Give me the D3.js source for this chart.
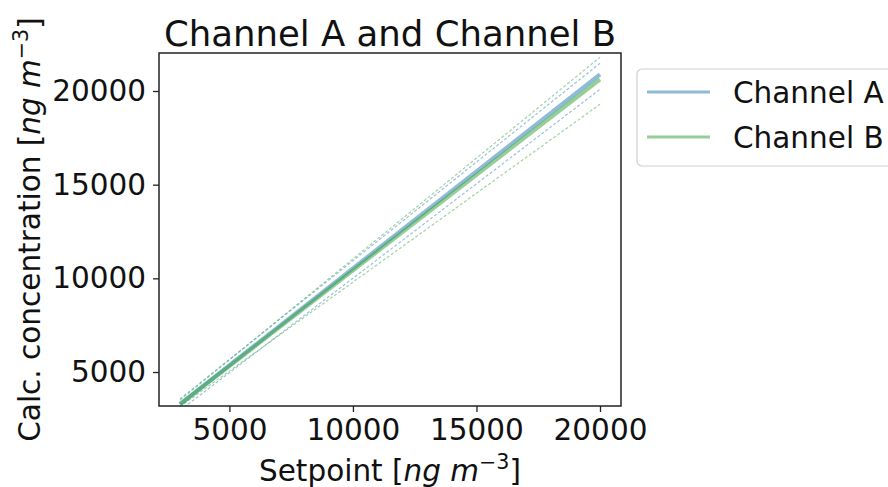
<!DOCTYPE html>
<html>
<head>
<meta charset="utf-8">
<script src="https://cdn.jsdelivr.net/npm/d3@7"></script>
<style>
  html, body { margin: 0; padding: 0; background: #fff; }
  svg { display: block; font-family: "DejaVu Sans", sans-serif; }
</style>
</head>
<body>
<svg id="chart" width="888" height="487"></svg>
<script>
// Setpoints spanned by the calibration fits
const setpoints = [3000, 20000];

// Channel A: fitted line and its upper / lower bounds
const channelAFit = [3290, 20890];
const channelAUpper = [3560, 21480];
const channelALower = [2950, 20090];

// Channel B: fitted line and its upper / lower bounds
const channelBFit = [3276, 20624];
const channelBUpper = [3500, 21800];
const channelBLower = [3150, 19290];

const xTicks = [5000, 10000, 15000, 20000];
const yTicks = [5000, 10000, 15000, 20000];

const seriesNames = ["Channel A", "Channel B"];
const seriesColors = ["#1f77b4", "#2ca02c"];

const svg = d3.select("#chart");
const plot = { left: 159, right: 621, top: 53, bottom: 406 };

const x = d3.scaleLinear().domain([2150, 20850]).range([plot.left, plot.right]);
const y = d3.scaleLinear().domain([3186, 22028]).range([plot.bottom, plot.top]);

svg.append("defs").append("clipPath").attr("id", "plot-clip")
  .append("rect")
  .attr("x", plot.left).attr("y", plot.top)
  .attr("width", plot.right - plot.left).attr("height", plot.bottom - plot.top);

const lineGen = d3.line().x(d => x(d[0])).y(d => y(d[1]));
const pts = vals => setpoints.map((s, i) => [s, vals[i]]);

const g = svg.append("g").attr("clip-path", "url(#plot-clip)");

const groups = [
  { fit: channelAFit, up: channelAUpper, lo: channelALower, color: seriesColors[0] },
  { fit: channelBFit, up: channelBUpper, lo: channelBLower, color: seriesColors[1] }
];

groups.forEach(s => {
  g.append("path").attr("d", lineGen(pts(s.fit)))
    .attr("fill", "none").attr("stroke", s.color)
    .attr("stroke-opacity", 0.5).attr("stroke-width", 4);
  [s.up, s.lo].forEach(b => {
    g.append("path").attr("d", lineGen(pts(b)))
      .attr("fill", "none").attr("stroke", s.color)
      .attr("stroke-opacity", 0.45).attr("stroke-width", 1.2)
      .attr("stroke-dasharray", "3,2");
  });
});

// Axes
const fontSize = 29.5;
const xAxis = svg.append("g")
  .attr("transform", `translate(0,${plot.bottom})`)
  .call(d3.axisBottom(x).tickValues(xTicks).tickSize(6).tickPadding(7).tickFormat(d3.format("d")));
const yAxis = svg.append("g")
  .attr("transform", `translate(${plot.left},0)`)
  .call(d3.axisLeft(y).tickValues(yTicks).tickSize(6).tickPadding(7).tickFormat(d3.format("d")));

[xAxis, yAxis].forEach(a => {
  a.select(".domain").remove();
  a.selectAll(".tick line").attr("stroke", "#222").attr("stroke-width", 1.3);
  a.selectAll(".tick text").attr("fill", "#111")
    .style("font-family", "DejaVu Sans").style("font-size", fontSize + "px");
});

// Frame
svg.append("rect")
  .attr("x", plot.left).attr("y", plot.top)
  .attr("width", plot.right - plot.left).attr("height", plot.bottom - plot.top)
  .attr("fill", "none").attr("stroke", "#222").attr("stroke-width", 1.5);

// Title
svg.append("text")
  .attr("x", (plot.left + plot.right) / 2).attr("y", 46)
  .attr("text-anchor", "middle")
  .style("font-size", "35.5px").attr("fill", "#111")
  .text("Channel A and Channel B");

// X label
const xl = svg.append("text")
  .attr("x", (plot.left + plot.right) / 2).attr("y", 481)
  .attr("text-anchor", "middle")
  .style("font-size", fontSize + "px").attr("fill", "#111");
xl.append("tspan").text("Setpoint [");
xl.append("tspan").style("font-style", "italic").text("ng m");
xl.append("tspan").attr("dy", -12).style("font-size", (fontSize * 0.7) + "px").text("−3");
xl.append("tspan").attr("dy", 12).text("]");

// Y label
const yl = svg.append("text")
  .attr("transform", `translate(40,${(plot.top + plot.bottom) / 2}) rotate(-90)`)
  .attr("text-anchor", "middle")
  .style("font-size", fontSize + "px").attr("fill", "#111");
yl.append("tspan").text("Calc. concentration [");
yl.append("tspan").style("font-style", "italic").text("ng m");
yl.append("tspan").attr("dy", -12).style("font-size", (fontSize * 0.7) + "px").text("−3");
yl.append("tspan").attr("dy", 12).text("]");

// Legend
const legend = svg.append("g");
legend.append("rect")
  .attr("x", 637).attr("y", 69).attr("width", 270).attr("height", 97)
  .attr("rx", 5).attr("fill", "#fff").attr("fill-opacity", 0.8)
  .attr("stroke", "#d0d0d0").attr("stroke-width", 1.2);
seriesNames.forEach((name, i) => {
  const yy = 92 + i * 45;
  legend.append("line")
    .attr("x1", 647).attr("x2", 710).attr("y1", yy).attr("y2", yy)
    .attr("stroke", seriesColors[i]).attr("stroke-opacity", 0.5).attr("stroke-width", 3);
  legend.append("text")
    .attr("x", 733).attr("y", yy + 10.5)
    .style("font-size", fontSize + "px").attr("fill", "#111")
    .text(name);
});
</script>
</body>
</html>
